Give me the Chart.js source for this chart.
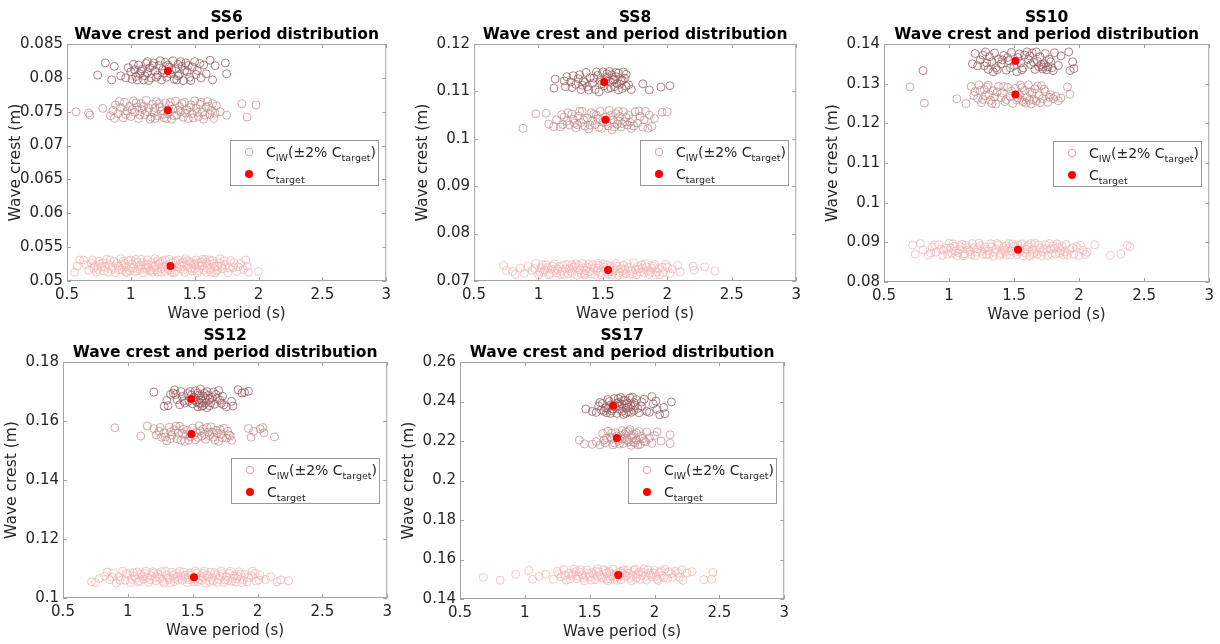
<!DOCTYPE html>
<html>
<head>
<meta charset="utf-8">
<script src="https://cdn.jsdelivr.net/npm/chart.js@4.4.1/dist/chart.umd.min.js"></script>
<style>
  body { margin: 0; background: #fff; }
  #wrap { position: relative; width: 1220px; height: 644px; background: #fff; }
  canvas { position: absolute; }
</style>
</head>
<body>
<div id="wrap"></div>
<script>
// shared x ticks
const xTicks = [0.5, 1, 1.5, 2, 2.5, 3];

// SS6
const ss6Ticks = [0.05, 0.055, 0.06, 0.065, 0.07, 0.075, 0.08, 0.085];
const ss6Target = [[1.29,0.0810],[1.29,0.0752],[1.31,0.0522]];
const ss6Top = [[0.74,0.0804],[0.80,0.0822],[0.85,0.0797],[0.87,0.0817],[0.92,0.0803],[0.98,0.0815],[1.00,0.0809],[1.01,0.0798],[1.03,0.0812],[1.04,0.0802],[1.06,0.0819],[1.07,0.0806],[1.09,0.0813],[1.10,0.0797],[1.12,0.0821],[1.13,0.0808],[1.15,0.0815],[1.16,0.0800],[1.18,0.0822],[1.19,0.0810],[1.21,0.0804],[1.22,0.0818],[1.24,0.0797],[1.25,0.0812],[1.27,0.0823],[1.28,0.0801],[1.30,0.0816],[1.31,0.0806],[1.33,0.0825],[1.34,0.0798],[1.35,0.0813],[1.37,0.0820],[1.38,0.0805],[1.40,0.0817],[1.41,0.0796],[1.43,0.0822],[1.44,0.0809],[1.46,0.0801],[1.48,0.0816],[1.50,0.0824],[1.52,0.0811],[1.55,0.0800],[1.57,0.0819],[1.59,0.0806],[1.62,0.0826],[1.64,0.0797],[1.66,0.0818],[1.74,0.0822],[1.75,0.0806],[1.14,0.0796],
  [0.96,0.0800],[1.02,0.0820],[1.05,0.0797],[1.08,0.0810],[1.11,0.0803],[1.17,0.0818],[1.20,0.0801],[1.23,0.0825],[1.26,0.0807],[1.29,0.0819],[1.32,0.0812],[1.36,0.0797],[1.39,0.0824],[1.42,0.0811],[1.45,0.0818],[1.47,0.0796],[1.51,0.0805],[1.54,0.0821],[1.13,0.0824],[1.37,0.0803]];
const ss6Mid = [[0.57,0.0750],[0.67,0.0748],[0.68,0.0745],[0.78,0.0755],[0.84,0.0744],[0.86,0.0752],[0.88,0.0760],[0.90,0.0747],[0.92,0.0756],[0.94,0.0741],[0.95,0.0764],[0.97,0.0751],[0.99,0.0758],[1.00,0.0743],[1.02,0.0766],[1.03,0.0749],[1.05,0.0757],[1.06,0.0740],[1.08,0.0762],[1.09,0.0753],[1.11,0.0746],[1.12,0.0767],[1.14,0.0755],[1.15,0.0739],[1.17,0.0761],[1.18,0.0749],[1.20,0.0765],[1.21,0.0744],[1.23,0.0757],[1.24,0.0751],[1.26,0.0741],[1.27,0.0763],[1.29,0.0747],[1.30,0.0759],[1.32,0.0739],[1.33,0.0754],[1.35,0.0766],[1.36,0.0745],[1.38,0.0758],[1.39,0.0750],[1.41,0.0742],[1.42,0.0764],[1.44,0.0753],[1.45,0.0740],[1.47,0.0760],[1.48,0.0747],[1.50,0.0766],[1.51,0.0755],[1.53,0.0743],[1.54,0.0761],[1.56,0.0749],[1.57,0.0739],[1.59,0.0757],[1.60,0.0765],[1.62,0.0746],[1.63,0.0752],[1.65,0.0740],[1.67,0.0759],[1.70,0.0750],[1.75,0.0745],[1.87,0.0762],[1.91,0.0742],[1.98,0.0760],[1.10,0.0758],[1.25,0.0746],[1.40,0.0762],
  [0.87,0.0740],[0.91,0.0765],[0.96,0.0746],[1.01,0.0753],[1.04,0.0763],[1.07,0.0745],[1.13,0.0750],[1.16,0.0742],[1.19,0.0756],[1.22,0.0762],[1.28,0.0740],[1.31,0.0764],[1.34,0.0744],[1.37,0.0752],[1.43,0.0748],[1.46,0.0756],[1.49,0.0741],[1.52,0.0749],[1.55,0.0764],[1.58,0.0745],[1.61,0.0758],[1.64,0.0762],[1.66,0.0748],[1.19,0.0740]];
const ss6Bot = [[0.56,0.0513],[0.58,0.0522],[0.60,0.0531],[0.63,0.0531],[0.67,0.0516],[0.69,0.0526],[0.71,0.0519],[0.73,0.0513],[0.75,0.0529],[0.77,0.0521],[0.79,0.0515],[0.81,0.0532],[0.83,0.0524],[0.85,0.0517],[0.87,0.0529],[0.88,0.0512],[0.90,0.0522],[0.92,0.0533],[0.93,0.0516],[0.95,0.0526],[0.97,0.0513],[0.98,0.0530],[1.00,0.0519],[1.01,0.0525],[1.03,0.0514],[1.04,0.0532],[1.06,0.0521],[1.07,0.0517],[1.09,0.0528],[1.10,0.0512],[1.12,0.0524],[1.13,0.0531],[1.15,0.0515],[1.16,0.0527],[1.18,0.0520],[1.19,0.0533],[1.21,0.0513],[1.22,0.0525],[1.24,0.0518],[1.25,0.0530],[1.27,0.0514],[1.28,0.0523],[1.30,0.0532],[1.31,0.0516],[1.33,0.0527],[1.34,0.0512],[1.36,0.0521],[1.37,0.0531],[1.39,0.0518],[1.40,0.0526],[1.42,0.0513],[1.43,0.0533],[1.45,0.0520],[1.46,0.0529],[1.48,0.0515],[1.49,0.0524],[1.51,0.0531],[1.52,0.0512],[1.54,0.0522],[1.55,0.0528],[1.57,0.0516],[1.58,0.0532],[1.60,0.0519],[1.61,0.0525],[1.63,0.0513],[1.64,0.0530],[1.66,0.0521],[1.67,0.0515],[1.69,0.0527],[1.70,0.0533],[1.72,0.0518],[1.74,0.0524],[1.76,0.0512],[1.78,0.0530],[1.80,0.0520],[1.83,0.0514],[1.86,0.0526],[1.90,0.0531],[1.91,0.0522],[1.92,0.0513],[2.00,0.0514],[0.96,0.0521],[1.05,0.0528],[1.14,0.0520],[1.23,0.0527],[1.32,0.0520],[1.41,0.0528],[1.50,0.0518],[1.59,0.0527],[1.68,0.0522],[0.99,0.0515],[1.08,0.0523],[1.17,0.0513],[1.26,0.0521],[1.35,0.0515],[1.44,0.0523],[1.53,0.0526],[1.62,0.0517],[0.86,0.0520],[0.76,0.0525],
  [0.65,0.0524],[0.70,0.0531],[0.72,0.0522],[0.74,0.0517],[0.78,0.0527],[0.80,0.0520],[0.82,0.0513],[0.84,0.0531],[0.89,0.0526],[0.91,0.0517],[0.94,0.0529],[0.96,0.0513],[1.00,0.0531],[1.02,0.0519],[1.05,0.0515],[1.08,0.0532],[1.11,0.0518],[1.13,0.0525],[1.16,0.0516],[1.19,0.0523],[1.21,0.0530],[1.24,0.0513],[1.27,0.0531],[1.29,0.0518],[1.32,0.0513],[1.35,0.0529],[1.38,0.0524],[1.41,0.0516],[1.44,0.0530],[1.47,0.0519],[1.50,0.0525],[1.53,0.0515],[1.56,0.0523],[1.59,0.0513],[1.62,0.0531],[1.65,0.0526],[1.68,0.0517],[1.71,0.0522],[1.73,0.0530],[1.77,0.0519],[1.81,0.0527],[1.84,0.0521],[1.88,0.0517],[1.12,0.0519],[1.40,0.0521],[1.56,0.0532],[0.93,0.0524],[1.20,0.0516],[1.47,0.0527],[1.66,0.0512]];

// SS8
const ss8Ticks = [0.07, 0.08, 0.09, 0.1, 0.11, 0.12];
const ss8Target = [[1.51,0.1120],[1.52,0.1040],[1.54,0.0723]];
const ss8Top = [[1.12,0.1107],[1.13,0.1126],[1.21,0.1110],[1.22,0.1131],[1.25,0.1120],[1.27,0.1133],[1.29,0.1115],[1.31,0.1127],[1.33,0.1104],[1.35,0.1122],[1.37,0.1140],[1.38,0.1110],[1.40,0.1129],[1.42,0.1117],[1.44,0.1104],[1.46,0.1134],[1.47,0.1099],[1.48,0.1123],[1.50,0.1141],[1.51,0.1112],[1.53,0.1130],[1.54,0.1106],[1.55,0.1142],[1.56,0.1119],[1.57,0.1135],[1.58,0.1124],[1.59,0.1110],[1.60,0.1131],[1.61,0.1117],[1.62,0.1139],[1.64,0.1122],[1.65,0.1106],[1.66,0.1141],[1.67,0.1128],[1.68,0.1136],[1.70,0.1114],[1.72,0.1104],[1.81,0.1116],[1.86,0.1103],[1.95,0.1109],[2.02,0.1112],[1.36,0.1119],[1.52,0.1124],[1.63,0.1115],
  [1.20,0.1122],[1.26,0.1108],[1.32,0.1135],[1.39,0.1103],[1.43,0.1128],[1.49,0.1116],[1.53,0.1137],[1.56,0.1108],[1.59,0.1126],[1.62,0.1103],[1.65,0.1124],[1.68,0.1111],[1.45,0.1141],[1.34,0.1113],[1.60,0.1140]];
const ss8Mid = [[0.88,0.1022],[0.98,0.1053],[1.06,0.1054],[1.08,0.1031],[1.12,0.1026],[1.17,0.1025],[1.20,0.1046],[1.22,0.1037],[1.24,0.1029],[1.26,0.1052],[1.27,0.1041],[1.29,0.1023],[1.31,0.1048],[1.33,0.1034],[1.34,0.1058],[1.36,0.1027],[1.38,0.1044],[1.39,0.1021],[1.41,0.1055],[1.42,0.1038],[1.44,0.1030],[1.45,0.1050],[1.47,0.1024],[1.48,0.1058],[1.50,0.1035],[1.52,0.1046],[1.54,0.1027],[1.55,0.1060],[1.57,0.1019],[1.58,0.1040],[1.60,0.1053],[1.61,0.1031],[1.63,0.1047],[1.64,0.1025],[1.66,0.1057],[1.67,0.1036],[1.69,0.1029],[1.70,0.1050],[1.72,0.1022],[1.73,0.1042],[1.75,0.1057],[1.77,0.1033],[1.79,0.1047],[1.81,0.1025],[1.83,0.1058],[1.85,0.1022],[1.88,0.1026],[1.90,0.1043],[1.96,0.1056],[2.00,0.1057],[1.30,0.1030],[1.46,0.1042],[1.62,0.1038],[1.18,0.1051],
  [1.14,0.1040],[1.19,0.1030],[1.23,0.1055],[1.28,0.1033],[1.32,0.1058],[1.35,0.1040],[1.40,0.1029],[1.43,0.1052],[1.49,0.1022],[1.53,0.1036],[1.56,0.1049],[1.59,0.1025],[1.62,0.1058],[1.65,0.1032],[1.68,0.1045],[1.71,0.1035],[1.74,0.1027],[1.78,0.1059],[1.82,0.1040],[1.86,0.1050]];
const ss8Bot = [[0.73,0.0733],[0.75,0.0722],[0.80,0.0720],[0.82,0.0714],[0.86,0.0727],[0.89,0.0716],[0.92,0.0731],[0.95,0.0722],[0.98,0.0737],[1.00,0.0713],[1.02,0.0728],[1.04,0.0719],[1.06,0.0734],[1.08,0.0713],[1.10,0.0725],[1.12,0.0736],[1.14,0.0717],[1.16,0.0730],[1.18,0.0721],[1.20,0.0713],[1.22,0.0735],[1.24,0.0726],[1.26,0.0717],[1.28,0.0731],[1.30,0.0712],[1.32,0.0723],[1.34,0.0737],[1.36,0.0716],[1.38,0.0729],[1.40,0.0720],[1.42,0.0734],[1.44,0.0713],[1.46,0.0727],[1.48,0.0718],[1.50,0.0736],[1.52,0.0724],[1.54,0.0714],[1.56,0.0731],[1.58,0.0719],[1.60,0.0737],[1.62,0.0712],[1.64,0.0726],[1.66,0.0733],[1.68,0.0716],[1.70,0.0729],[1.72,0.0721],[1.74,0.0738],[1.76,0.0713],[1.78,0.0725],[1.80,0.0734],[1.82,0.0717],[1.84,0.0730],[1.86,0.0714],[1.88,0.0727],[1.90,0.0735],[1.92,0.0719],[1.94,0.0713],[1.96,0.0729],[1.99,0.0735],[2.02,0.0716],[2.04,0.0725],[2.08,0.0733],[2.10,0.0719],[2.20,0.0731],[2.21,0.0723],[2.29,0.0730],[2.37,0.0721],[1.25,0.0721],[1.35,0.0728],[1.45,0.0722],[1.55,0.0720],[1.65,0.0721],[1.75,0.0724],[1.85,0.0722],[1.15,0.0725],[1.05,0.0723],[1.58,0.0728],[1.41,0.0715],[1.71,0.0714],[1.29,0.0736],
  [0.97,0.0726],[1.01,0.0719],[1.03,0.0734],[1.07,0.0728],[1.09,0.0716],[1.11,0.0731],[1.13,0.0722],[1.17,0.0714],[1.19,0.0733],[1.21,0.0726],[1.23,0.0715],[1.27,0.0729],[1.31,0.0733],[1.33,0.0716],[1.37,0.0722],[1.39,0.0735],[1.43,0.0727],[1.47,0.0733],[1.49,0.0713],[1.51,0.0729],[1.53,0.0734],[1.57,0.0713],[1.59,0.0723],[1.61,0.0731],[1.63,0.0718],[1.67,0.0725],[1.69,0.0737],[1.73,0.0715],[1.77,0.0731],[1.79,0.0719],[1.81,0.0727],[1.83,0.0736],[1.87,0.0719],[1.89,0.0731],[1.91,0.0713],[1.93,0.0726],[1.97,0.0718],[2.00,0.0729],[1.46,0.0737],[1.26,0.0734],[1.66,0.0714],[1.36,0.0713]];

// SS10
const ss10Ticks = [0.08, 0.09, 0.1, 0.11, 0.12, 0.13, 0.14];
const ss10Target = [[1.51,0.1357],[1.51,0.1273],[1.53,0.0881]];
const ss10Top = [[0.80,0.1333],[1.18,0.1350],[1.20,0.1376],[1.24,0.1360],[1.27,0.1345],[1.28,0.1380],[1.30,0.1336],[1.31,0.1368],[1.33,0.1355],[1.35,0.1377],[1.36,0.1340],[1.38,0.1362],[1.40,0.1350],[1.42,0.1371],[1.44,0.1334],[1.46,0.1358],[1.48,0.1379],[1.50,0.1345],[1.52,0.1330],[1.53,0.1366],[1.55,0.1352],[1.57,0.1340],[1.60,0.1380],[1.61,0.1361],[1.63,0.1348],[1.64,0.1377],[1.66,0.1336],[1.68,0.1356],[1.69,0.1343],[1.70,0.1368],[1.72,0.1337],[1.73,0.1350],[1.74,0.1376],[1.75,0.1335],[1.77,0.1362],[1.79,0.1340],[1.81,0.1378],[1.84,0.1346],[1.86,0.1370],[1.92,0.1380],[1.93,0.1333],[1.95,0.1355],[1.96,0.1338],[1.58,0.1372],[1.45,0.1366],[1.34,0.1330],
  [1.22,0.1345],[1.26,0.1372],[1.29,0.1352],[1.37,0.1335],[1.41,0.1360],[1.47,0.1340],[1.54,0.1375],[1.56,0.1335],[1.62,0.1370],[1.65,0.1354],[1.67,0.1380],[1.71,0.1348],[1.76,0.1342],[1.78,0.1355],[1.80,0.1333],[1.72,0.1342]];
const ss10Mid = [[0.70,0.1292],[0.81,0.1251],[1.06,0.1262],[1.13,0.1250],[1.17,0.1293],[1.20,0.1280],[1.22,0.1263],[1.23,0.1297],[1.25,0.1252],[1.27,0.1285],[1.28,0.1270],[1.30,0.1296],[1.32,0.1258],[1.34,0.1282],[1.36,0.1249],[1.38,0.1293],[1.40,0.1265],[1.41,0.1277],[1.43,0.1255],[1.45,0.1291],[1.47,0.1268],[1.49,0.1250],[1.51,0.1288],[1.52,0.1259],[1.54,0.1273],[1.55,0.1296],[1.57,0.1254],[1.58,0.1283],[1.60,0.1265],[1.61,0.1297],[1.63,0.1249],[1.64,0.1276],[1.66,0.1287],[1.67,0.1256],[1.69,0.1270],[1.71,0.1295],[1.72,0.1262],[1.74,0.1280],[1.76,0.1253],[1.78,0.1272],[1.80,0.1262],[1.82,0.1268],[1.84,0.1257],[1.86,0.1264],[1.91,0.1292],[1.93,0.1273],[1.35,0.1266],[1.56,0.1258],
  [1.19,0.1270],[1.24,0.1283],[1.26,0.1260],[1.29,0.1291],[1.31,0.1272],[1.33,0.1250],[1.37,0.1279],[1.42,0.1293],[1.44,0.1260],[1.48,0.1281],[1.53,0.1264],[1.56,0.1290],[1.59,0.1251],[1.62,0.1279],[1.65,0.1260],[1.68,0.1294],[1.70,0.1252],[1.73,0.1286],[1.77,0.1266],[1.62,0.1258]];
const ss10Bot = [[0.72,0.0893],[0.74,0.0870],[0.78,0.0897],[0.80,0.0881],[0.84,0.0868],[0.87,0.0888],[0.90,0.0875],[0.92,0.0894],[0.95,0.0867],[0.98,0.0885],[1.00,0.0898],[1.02,0.0873],[1.04,0.0890],[1.06,0.0866],[1.08,0.0882],[1.10,0.0895],[1.12,0.0871],[1.14,0.0887],[1.16,0.0877],[1.18,0.0897],[1.20,0.0866],[1.22,0.0884],[1.24,0.0892],[1.26,0.0870],[1.28,0.0888],[1.30,0.0879],[1.32,0.0896],[1.34,0.0865],[1.36,0.0883],[1.38,0.0893],[1.40,0.0872],[1.42,0.0887],[1.44,0.0867],[1.46,0.0897],[1.48,0.0878],[1.50,0.0890],[1.52,0.0869],[1.54,0.0884],[1.56,0.0896],[1.58,0.0874],[1.60,0.0889],[1.62,0.0866],[1.64,0.0881],[1.66,0.0898],[1.68,0.0870],[1.70,0.0886],[1.72,0.0876],[1.74,0.0894],[1.76,0.0867],[1.78,0.0883],[1.80,0.0891],[1.82,0.0871],[1.84,0.0887],[1.86,0.0879],[1.88,0.0868],[1.90,0.0895],[1.93,0.0882],[1.96,0.0870],[1.98,0.0889],[2.00,0.0866],[2.03,0.0880],[2.06,0.0875],[2.12,0.0894],[2.24,0.0867],[2.32,0.0871],[2.37,0.0892],[2.39,0.0889],[1.25,0.0878],[1.35,0.0875],[1.45,0.0885],[1.55,0.0877],[1.65,0.0873],[1.75,0.0884],[1.15,0.0881],[1.05,0.0878],[1.41,0.0880],[1.61,0.0894],[1.29,0.0868],[0.96,0.0880],[1.85,0.0873],
  [0.86,0.0873],[0.89,0.0894],[0.94,0.0882],[0.99,0.0870],[1.01,0.0886],[1.03,0.0896],[1.07,0.0874],[1.09,0.0889],[1.11,0.0866],[1.13,0.0893],[1.17,0.0869],[1.19,0.0886],[1.21,0.0875],[1.23,0.0898],[1.27,0.0883],[1.31,0.0870],[1.33,0.0889],[1.37,0.0897],[1.39,0.0867],[1.43,0.0876],[1.47,0.0868],[1.49,0.0896],[1.51,0.0875],[1.53,0.0893],[1.57,0.0866],[1.59,0.0883],[1.63,0.0897],[1.67,0.0880],[1.69,0.0893],[1.71,0.0866],[1.73,0.0882],[1.77,0.0897],[1.79,0.0870],[1.81,0.0885],[1.83,0.0896],[1.87,0.0890],[1.89,0.0876],[1.91,0.0868],[1.95,0.0886],[2.01,0.0892],[2.05,0.0869],[1.44,0.0891],[1.64,0.0869]];

// SS12
const ss12Ticks = [0.1, 0.12, 0.14, 0.16, 0.18];
const ss12Target = [[1.49,0.1675],[1.49,0.1556],[1.51,0.1070]];
const ss12Top = [[1.20,0.1698],[1.28,0.1650],[1.30,0.1670],[1.31,0.1652],[1.33,0.1690],[1.35,0.1695],[1.36,0.1705],[1.38,0.1672],[1.40,0.1655],[1.42,0.1683],[1.44,0.1661],[1.46,0.1693],[1.48,0.1700],[1.50,0.1658],[1.51,0.1681],[1.52,0.1702],[1.53,0.1665],[1.54,0.1648],[1.55,0.1688],[1.56,0.1708],[1.57,0.1670],[1.58,0.1652],[1.59,0.1694],[1.60,0.1678],[1.61,0.1645],[1.62,0.1687],[1.64,0.1662],[1.66,0.1698],[1.67,0.1657],[1.69,0.1676],[1.70,0.1703],[1.72,0.1660],[1.73,0.1684],[1.76,0.1648],[1.80,0.1667],[1.81,0.1651],[1.85,0.1706],[1.88,0.1695],[1.90,0.1697],[1.93,0.1701],[1.56,0.1660],[1.63,0.1673],[1.47,0.1668],
  [1.37,0.1690],[1.41,0.1700],[1.43,0.1668],[1.49,0.1688],[1.52,0.1672],[1.54,0.1695],[1.55,0.1660],[1.57,0.1650],[1.58,0.1685],[1.60,0.1662],[1.61,0.1700],[1.63,0.1652],[1.65,0.1680],[1.68,0.1690],[1.71,0.1670],[1.74,0.1655],[1.56,0.1677]];
const ss12Mid = [[0.90,0.1577],[1.10,0.1549],[1.15,0.1583],[1.20,0.1574],[1.22,0.1553],[1.24,0.1566],[1.26,0.1545],[1.28,0.1560],[1.30,0.1533],[1.32,0.1579],[1.34,0.1552],[1.36,0.1570],[1.38,0.1540],[1.40,0.1582],[1.42,0.1557],[1.44,0.1531],[1.46,0.1568],[1.48,0.1547],[1.50,0.1576],[1.52,0.1536],[1.53,0.1561],[1.55,0.1584],[1.57,0.1549],[1.58,0.1572],[1.60,0.1538],[1.62,0.1563],[1.64,0.1580],[1.66,0.1545],[1.68,0.1568],[1.70,0.1531],[1.72,0.1556],[1.74,0.1575],[1.76,0.1542],[1.78,0.1553],[1.80,0.1535],[1.93,0.1575],[1.95,0.1545],[1.97,0.1565],[2.02,0.1573],[2.04,0.1578],[2.05,0.1560],[2.13,0.1546],[1.45,0.1555],[1.63,0.1550],[1.33,0.1563],
  [1.25,0.1578],[1.29,0.1546],[1.33,0.1540],[1.37,0.1583],[1.39,0.1560],[1.41,0.1535],[1.43,0.1572],[1.47,0.1535],[1.51,0.1552],[1.54,0.1545],[1.56,0.1566],[1.59,0.1555],[1.61,0.1578],[1.65,0.1562],[1.67,0.1536],[1.69,0.1558],[1.71,0.1571],[1.73,0.1543],[1.77,0.1565],[1.79,0.1550]];
const ss12Bot = [[0.72,0.1055],[0.75,0.1053],[0.78,0.1066],[0.82,0.1074],[0.84,0.1088],[0.86,0.1062],[0.89,0.1083],[0.91,0.1051],[0.93,0.1072],[0.96,0.1090],[0.98,0.1060],[1.00,0.1079],[1.02,0.1052],[1.04,0.1086],[1.06,0.1067],[1.08,0.1055],[1.10,0.1081],[1.12,0.1064],[1.14,0.1091],[1.16,0.1053],[1.18,0.1075],[1.20,0.1085],[1.22,0.1058],[1.24,0.1070],[1.26,0.1089],[1.28,0.1051],[1.30,0.1079],[1.32,0.1062],[1.34,0.1087],[1.36,0.1055],[1.38,0.1073],[1.40,0.1091],[1.42,0.1060],[1.44,0.1077],[1.46,0.1052],[1.48,0.1085],[1.50,0.1066],[1.52,0.1090],[1.54,0.1056],[1.56,0.1075],[1.58,0.1083],[1.60,0.1050],[1.62,0.1070],[1.64,0.1088],[1.66,0.1058],[1.68,0.1079],[1.70,0.1063],[1.72,0.1091],[1.74,0.1053],[1.76,0.1072],[1.78,0.1084],[1.80,0.1057],[1.82,0.1076],[1.84,0.1066],[1.86,0.1089],[1.88,0.1052],[1.90,0.1080],[1.93,0.1069],[1.96,0.1090],[1.99,0.1057],[2.02,0.1077],[2.06,0.1063],[2.10,0.1072],[2.15,0.1055],[2.18,0.1061],[2.24,0.1058],[1.25,0.1066],[1.35,0.1077],[1.45,0.1068],[1.55,0.1063],[1.65,0.1068],[1.75,0.1061],[1.15,0.1070],[1.05,0.1074],[1.85,0.1074],[1.95,0.1076],
  [0.88,0.1070],[0.94,0.1060],[0.99,0.1084],[1.03,0.1064],[1.07,0.1088],[1.09,0.1058],[1.11,0.1073],[1.13,0.1084],[1.17,0.1062],[1.19,0.1089],[1.21,0.1070],[1.23,0.1082],[1.27,0.1057],[1.29,0.1090],[1.31,0.1068],[1.33,0.1052],[1.37,0.1083],[1.39,0.1061],[1.41,0.1075],[1.43,0.1088],[1.47,0.1062],[1.49,0.1078],[1.51,0.1055],[1.53,0.1084],[1.57,0.1060],[1.59,0.1091],[1.61,0.1078],[1.63,0.1056],[1.67,0.1086],[1.69,0.1053],[1.71,0.1074],[1.73,0.1082],[1.77,0.1059],[1.79,0.1090],[1.81,0.1067],[1.83,0.1054],[1.87,0.1081],[1.89,0.1061],[1.92,0.1055],[1.98,0.1083],[2.01,0.1061],[1.58,0.1070],[1.36,0.1066]];

// SS17
const ss17Ticks = [0.14, 0.16, 0.18, 0.2, 0.22, 0.24, 0.26];
const ss17Target = [[1.68,0.2378],[1.71,0.2215],[1.72,0.1522]];
const ss17Top = [[1.47,0.2362],[1.52,0.2350],[1.55,0.2345],[1.57,0.2378],[1.59,0.2357],[1.60,0.2390],[1.62,0.2368],[1.63,0.2343],[1.65,0.2400],[1.66,0.2382],[1.67,0.2352],[1.69,0.2415],[1.70,0.2372],[1.71,0.2340],[1.72,0.2395],[1.73,0.2360],[1.74,0.2420],[1.75,0.2385],[1.76,0.2335],[1.77,0.2405],[1.78,0.2365],[1.79,0.2392],[1.80,0.2348],[1.81,0.2418],[1.82,0.2375],[1.83,0.2422],[1.84,0.2355],[1.85,0.2380],[1.86,0.2410],[1.88,0.2343],[1.90,0.2398],[1.92,0.2412],[1.94,0.2350],[1.96,0.2345],[1.98,0.2425],[1.99,0.2388],[2.01,0.2402],[2.02,0.2360],[2.04,0.2333],[2.07,0.2370],[2.08,0.2338],[2.13,0.2398],[1.64,0.2366],[1.78,0.2340],
  [1.58,0.2395],[1.61,0.2350],[1.64,0.2410],[1.66,0.2340],[1.68,0.2362],[1.71,0.2390],[1.73,0.2378],[1.75,0.2350],[1.76,0.2405],[1.78,0.2385],[1.80,0.2370],[1.82,0.2345],[1.84,0.2395],[1.87,0.2365],[1.90,0.2375],[1.72,0.2415]];
const ss17Mid = [[1.42,0.2205],[1.46,0.2185],[1.52,0.2183],[1.55,0.2197],[1.58,0.2180],[1.60,0.2238],[1.61,0.2205],[1.62,0.2190],[1.64,0.2250],[1.66,0.2220],[1.68,0.2180],[1.70,0.2242],[1.72,0.2200],[1.74,0.2228],[1.75,0.2252],[1.76,0.2188],[1.77,0.2213],[1.78,0.2245],[1.80,0.2195],[1.81,0.2258],[1.82,0.2178],[1.83,0.2215],[1.84,0.2235],[1.85,0.2190],[1.86,0.2205],[1.88,0.2248],[1.89,0.2183],[1.90,0.2225],[1.92,0.2200],[1.94,0.2245],[1.96,0.2215],[1.98,0.2188],[2.00,0.2228],[2.02,0.2246],[2.05,0.2200],[2.12,0.2232],[2.12,0.2187],[1.67,0.2210],
  [1.63,0.2215],[1.67,0.2240],[1.69,0.2190],[1.71,0.2225],[1.73,0.2185],[1.75,0.2210],[1.77,0.2235],[1.79,0.2205],[1.80,0.2250],[1.82,0.2228],[1.84,0.2195],[1.86,0.2240],[1.87,0.2180],[1.91,0.2212],[1.93,0.2195]];
const ss17Bot = [[0.68,0.1510],[0.81,0.1495],[0.93,0.1525],[1.03,0.1545],[1.06,0.1500],[1.11,0.1515],[1.16,0.1525],[1.22,0.1500],[1.25,0.1540],[1.28,0.1512],[1.30,0.1550],[1.32,0.1495],[1.34,0.1530],[1.36,0.1518],[1.38,0.1552],[1.40,0.1503],[1.42,0.1538],[1.44,0.1522],[1.46,0.1492],[1.48,0.1547],[1.50,0.1510],[1.52,0.1533],[1.54,0.1498],[1.56,0.1553],[1.58,0.1520],[1.60,0.1505],[1.62,0.1542],[1.64,0.1493],[1.66,0.1528],[1.68,0.1551],[1.70,0.1508],[1.72,0.1535],[1.74,0.1497],[1.76,0.1548],[1.78,0.1515],[1.80,0.1530],[1.82,0.1492],[1.84,0.1545],[1.86,0.1506],[1.88,0.1537],[1.90,0.1520],[1.92,0.1552],[1.94,0.1496],[1.96,0.1530],[1.98,0.1512],[2.00,0.1546],[2.02,0.1500],[2.04,0.1535],[2.06,0.1518],[2.08,0.1550],[2.10,0.1505],[2.13,0.1528],[2.16,0.1540],[2.19,0.1510],[2.22,0.1495],[2.25,0.1532],[2.29,0.1538],[2.38,0.1498],[2.44,0.1500],[2.45,0.1535],[1.37,0.1526],[1.47,0.1516],[1.57,0.1537],[1.67,0.1515],[1.77,0.1524],[1.87,0.1525],[1.97,0.1522],[1.53,0.1523],[1.73,0.1520],[1.63,0.1530],
  [1.26,0.1528],[1.31,0.1520],[1.35,0.1502],[1.39,0.1538],[1.41,0.1515],[1.43,0.1548],[1.45,0.1505],[1.49,0.1530],[1.51,0.1495],[1.55,0.1540],[1.59,0.1510],[1.61,0.1550],[1.63,0.1500],[1.65,0.1540],[1.69,0.1522],[1.71,0.1495],[1.75,0.1530],[1.79,0.1545],[1.81,0.1505],[1.83,0.1520],[1.85,0.1552],[1.89,0.1500],[1.91,0.1535],[1.93,0.1515],[1.95,0.1548],[1.99,0.1530],[2.01,0.1515],[2.03,0.1493],[2.05,0.1542],[2.07,0.1508],[2.11,0.1538],[2.14,0.1510],[2.18,0.1530],[2.21,0.1547],[1.56,0.1515],[1.74,0.1540],[1.66,0.1500]];

const panels = [
  { name: 'SS6',  box: [67, 44, 390, 281],  yTicks: ss6Ticks,  top: ss6Top,  mid: ss6Mid,  bot: ss6Bot,  target: ss6Target },
  { name: 'SS8',  box: [474, 44, 800, 281], yTicks: ss8Ticks,  top: ss8Top,  mid: ss8Mid,  bot: ss8Bot,  target: ss8Target },
  { name: 'SS10', box: [884, 44, 1213, 282], yTicks: ss10Ticks, top: ss10Top, mid: ss10Mid, bot: ss10Bot, target: ss10Target },
  { name: 'SS12', box: [63, 362, 391, 598], yTicks: ss12Ticks, top: ss12Top, mid: ss12Mid, bot: ss12Bot, target: ss12Target },
  { name: 'SS17', box: [460, 362, 788, 599], yTicks: ss17Ticks, top: ss17Top, mid: ss17Mid, bot: ss17Bot, target: ss17Target },
];

const FONT = "'DejaVu Sans', sans-serif";
const TEXT = '#262626';
const AXIS = '#a3a3a3';
const topColor = 'rgba(150,90,92,0.75)';
const midColor = 'rgba(195,135,135,0.7)';
const botColor = 'rgba(246,182,182,0.8)';
const legendMarker = 'rgba(214,150,150,0.9)';

Chart.defaults.font.family = FONT;
Chart.defaults.color = TEXT;

const fmt = v => String(+(+v).toFixed(4));
const pts = arr => arr.map(p => ({ x: p[0], y: p[1] }));

// box, inward ticks, 2-line title and MATLAB-like legend
const decor = {
  id: 'decor',
  afterDraw(chart) {
    const { ctx, chartArea: ca, scales: { x, y } } = chart;
    const name = chart.options.plugins.decor.name;
    ctx.save();
    ctx.strokeStyle = AXIS;
    ctx.lineWidth = 1;
    ctx.strokeRect(ca.left + 0.5, ca.top + 0.5, ca.right - ca.left - 1, ca.bottom - ca.top - 1);
    ctx.beginPath();
    x.ticks.forEach(t => {
      const px = Math.round(x.getPixelForValue(t.value)) + 0.5;
      ctx.moveTo(px, ca.bottom); ctx.lineTo(px, ca.bottom - 4);
      ctx.moveTo(px, ca.top); ctx.lineTo(px, ca.top + 4);
    });
    y.ticks.forEach(t => {
      const py = Math.round(y.getPixelForValue(t.value)) + 0.5;
      ctx.moveTo(ca.left, py); ctx.lineTo(ca.left + 4, py);
      ctx.moveTo(ca.right, py); ctx.lineTo(ca.right - 4, py);
    });
    ctx.stroke();

    // title
    const cx = (ca.left + ca.right) / 2;
    ctx.fillStyle = '#000';
    ctx.textAlign = 'center';
    ctx.textBaseline = 'middle';
    ctx.font = 'bold 15.5px ' + FONT;
    ctx.fillText(name, cx, ca.top - 26);
    ctx.fillText('Wave crest and period distribution', cx, ca.top - 9);

    // legend
    const lw = 148, lh = 45;
    const lx = Math.round(ca.right - 8 - lw), ly = Math.round((ca.top + ca.bottom) / 2 - lh / 2);
    ctx.fillStyle = '#fff';
    ctx.fillRect(lx, ly, lw, lh);
    ctx.strokeStyle = '#9a9a9a';
    ctx.strokeRect(lx + 0.5, ly + 0.5, lw, lh);
    ctx.beginPath();
    ctx.arc(lx + 19, ly + 12, 3.8, 0, Math.PI * 2);
    ctx.strokeStyle = legendMarker;
    ctx.stroke();
    ctx.beginPath();
    ctx.arc(lx + 19, ly + 34, 4, 0, Math.PI * 2);
    ctx.fillStyle = '#ff0000';
    ctx.fill();

    ctx.fillStyle = TEXT;
    ctx.textAlign = 'left';
    ctx.textBaseline = 'alphabetic';
    const big = '14px ' + FONT, small = '9.5px ' + FONT;
    const run = (parts, x0, base) => {
      let xx = x0;
      parts.forEach(([s, sub]) => {
        ctx.font = sub ? small : big;
        ctx.fillText(s, xx, base + (sub ? 4 : 0));
        xx += ctx.measureText(s).width;
      });
    };
    run([['C'], ['IW', 1], ['(\u00b12% C'], ['target', 1], [')']], lx + 36, ly + 17);
    run([['C'], ['target', 1]], lx + 36, ly + 39);
    ctx.restore();
  }
};

const wrap = document.getElementById('wrap');

panels.forEach(p => {
  const [l, t, r, b] = p.box;
  const cv = document.createElement('canvas');
  const W = (r - l) + 66, H = (b - t) + 88;
  cv.width = W; cv.height = H;
  cv.style.left = (l - 60) + 'px';
  cv.style.top = (t - 44) + 'px';
  cv.style.width = W + 'px'; cv.style.height = H + 'px';
  wrap.appendChild(cv);

  const ring = (data, color) => ({
    data: pts(data), order: 1,
    pointStyle: 'circle', pointRadius: 4, pointBorderWidth: 1,
    pointBackgroundColor: 'rgba(0,0,0,0)', pointBorderColor: color,
  });

  new Chart(cv, {
    type: 'scatter',
    data: {
      datasets: [
        { data: pts(p.target), order: 0, pointRadius: 4, pointBorderWidth: 0,
          pointBackgroundColor: '#ff0000', pointBorderColor: '#ff0000' },
        ring(p.top, topColor),
        ring(p.mid, midColor),
        ring(p.bot, botColor),
      ]
    },
    options: {
      responsive: false,
      animation: false,
      devicePixelRatio: 1,
      layout: { padding: { top: 44, right: 6, left: 0, bottom: 0 } },
      plugins: {
        legend: { display: false },
        tooltip: { enabled: false },
        decor: { name: p.name },
      },
      scales: {
        x: {
          type: 'linear', min: 0.5, max: 3,
          afterBuildTicks: s => { s.ticks = xTicks.map(v => ({ value: v })); },
          afterFit: s => { s.height = 44; },
          grid: { display: false, drawTicks: false },
          border: { display: false },
          ticks: { padding: 5, maxRotation: 0, autoSkip: false, color: TEXT,
                   font: { size: 15 }, callback: fmt },
          title: { display: true, text: 'Wave period (s)', color: TEXT,
                   font: { size: 15 }, padding: { top: 0, bottom: 2 } },
        },
        y: {
          type: 'linear', min: p.yTicks[0], max: p.yTicks[p.yTicks.length - 1],
          afterBuildTicks: s => { s.ticks = p.yTicks.map(v => ({ value: v })); },
          afterFit: s => { s.width = 60; },
          grid: { display: false, drawTicks: false },
          border: { display: false },
          ticks: { padding: 4, autoSkip: false, color: TEXT,
                   font: { size: 15 }, callback: fmt },
          title: { display: true, text: 'Wave crest (m)', color: TEXT,
                   font: { size: 15.5 }, padding: { top: 0, bottom: 0 } },
        },
      },
    },
    plugins: [decor],
  });
});
</script>
</body>
</html>
